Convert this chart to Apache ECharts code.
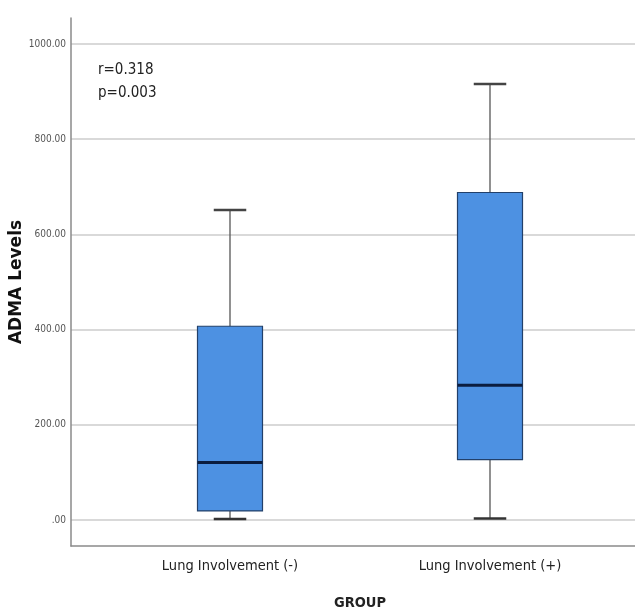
<!DOCTYPE html>
<html><head><meta charset="utf-8">
<script src="https://cdn.jsdelivr.net/npm/echarts@6/dist/echarts.min.js"></script>
<style>html,body{margin:0;padding:0;background:#fff}#c{width:635px;height:611px}</style>
</head><body><div id="c"></div>
<script>
const categories = ['Lung Involvement (-)', 'Lung Involvement (+)'];
const lowWhisker = [2, 3];
const q1 = [19, 127];
const median = [121, 283];
const q3 = [407, 688];
const highWhisker = [651, 916];
const yTicks = [0, 200, 400, 600, 800, 1000];

const narrow = '"Liberation Sans Narrow","DejaVu Sans Condensed",sans-serif';
const boxData = categories.map((c, i) => [i, lowWhisker[i], q1[i], median[i], q3[i], highWhisker[i]]);

const chart = echarts.init(document.getElementById('c'), null, {renderer: 'canvas'});
chart.setOption({
  animation: false,
  backgroundColor: '#ffffff',
  title: {
    text: 'r=0.318\np=0.003', left: 93, top: 54,
    textStyle: {fontFamily: narrow, fontSize: 15, fontWeight: 'normal', color: '#222', lineHeight: 23}
  },
  grid: [
    {left: 71, right: 0, top: 18, bottom: 65, outerBoundsMode: 'none'},
    {left: 71, right: 0, top: 44, bottom: 91, outerBoundsMode: 'none'},
    {left: 100, right: 15, top: 44, bottom: 91, outerBoundsMode: 'none'}
  ],
  xAxis: [
    {gridIndex: 0, type: 'value', min: 0, max: 1, axisLine: {show: true, lineStyle: {color: '#8a8a8a', width: 1.5}}, axisTick: {show: false}, axisLabel: {show: false}, splitLine: {show: false}},
    {gridIndex: 1, type: 'value', min: 0, max: 1, show: false},
    {gridIndex: 2, type: 'category', data: categories, position: 'bottom', offset: 26,
      axisLine: {show: false}, axisTick: {show: false},
      axisLabel: {margin: 13, fontFamily: narrow, fontSize: 14.5, color: '#222'},
      name: 'GROUP', nameLocation: 'middle', nameGap: 50, nameMoveOverlap: false,
      nameTextStyle: {fontFamily: narrow, fontSize: 14.5, fontWeight: 'bold', color: '#222'}
    }
  ],
  yAxis: [
    {gridIndex: 0, type: 'value', min: 0, max: 1, axisLine: {show: true, lineStyle: {color: '#8a8a8a', width: 1.5}}, axisTick: {show: false}, axisLabel: {show: false}, splitLine: {show: false}},
    {gridIndex: 1, type: 'value', min: yTicks[0], max: yTicks[yTicks.length - 1], interval: 200,
      axisLine: {show: false}, axisTick: {show: false},
      axisLabel: {margin: 5, fontFamily: narrow, fontSize: 10, color: '#555',
        formatter: v => v === 0 ? '.00' : v.toFixed(2)},
      splitLine: {show: true, lineStyle: {color: '#cccccc', width: 1.5}},
      name: 'ADMA Levels', nameLocation: 'middle', nameGap: 46, nameMoveOverlap: false,
      nameTextStyle: {fontFamily: '"DejaVu Sans",sans-serif', fontSize: 17, fontWeight: 'bold', color: '#111'}
    },
    {gridIndex: 2, type: 'value', min: yTicks[0], max: yTicks[yTicks.length - 1], show: false}
  ],
  series: [{
    type: 'custom',
    xAxisIndex: 2, yAxisIndex: 2,
    data: boxData,
    renderItem: function (params, api) {
      const x = api.value(0);
      const band = api.size([1, 0])[0];
      const bw = band * 0.25, cw = band * 0.125;
      const pLow = api.coord([x, api.value(1)]);
      const pQ1 = api.coord([x, api.value(2)]);
      const pMed = api.coord([x, api.value(3)]);
      const pQ3 = api.coord([x, api.value(4)]);
      const pHigh = api.coord([x, api.value(5)]);
      const cx = pLow[0];
      return {
        type: 'group',
        children: [
          {type: 'line', shape: {x1: cx, y1: pHigh[1], x2: cx, y2: pQ3[1]}, style: {stroke: '#555', lineWidth: 1.3}},
          {type: 'line', shape: {x1: cx, y1: pQ1[1], x2: cx, y2: pLow[1]}, style: {stroke: '#555', lineWidth: 1.3}},
          {type: 'line', shape: {x1: cx - cw / 2, y1: pHigh[1], x2: cx + cw / 2, y2: pHigh[1]}, style: {stroke: '#444', lineWidth: 2.5}},
          {type: 'line', shape: {x1: cx - cw / 2, y1: pLow[1], x2: cx + cw / 2, y2: pLow[1]}, style: {stroke: '#333', lineWidth: 2.5}},
          {type: 'rect', shape: {x: cx - bw / 2, y: pQ3[1], width: bw, height: pQ1[1] - pQ3[1]}, style: {fill: '#4d91e2', stroke: '#22406a', lineWidth: 1.2}},
          {type: 'line', shape: {x1: cx - bw / 2, y1: pMed[1], x2: cx + bw / 2, y2: pMed[1]}, style: {stroke: '#0b1d3f', lineWidth: 3}}
        ]
      };
    }
  }]
});
</script></body></html>
